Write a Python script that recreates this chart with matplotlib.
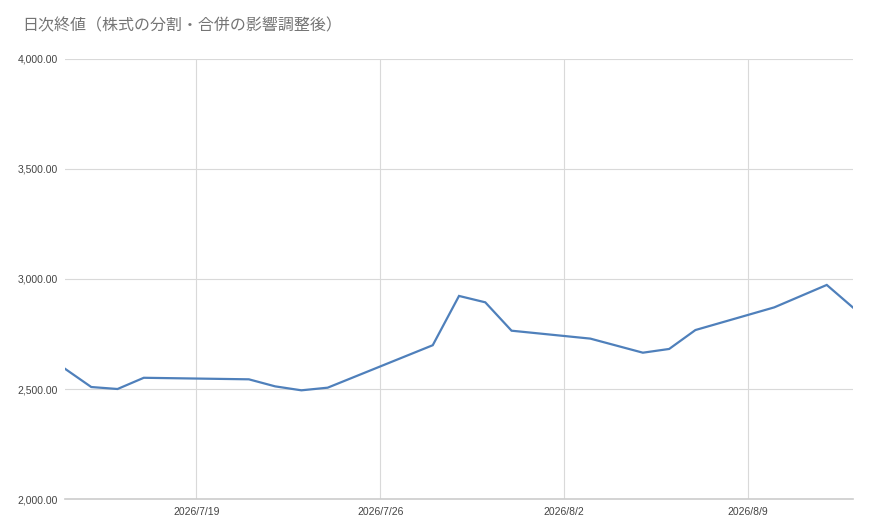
import datetime as dt

import matplotlib

matplotlib.use("Agg")
import matplotlib.dates as mdates
import matplotlib.pyplot as plt
from matplotlib.ticker import FuncFormatter

# Daily closing values (adjusted for splits / mergers)
dates = [
    "2026-07-14", "2026-07-15", "2026-07-16", "2026-07-17", "2026-07-21",
    "2026-07-22", "2026-07-23", "2026-07-24", "2026-07-28", "2026-07-29",
    "2026-07-30", "2026-07-31", "2026-08-03", "2026-08-05", "2026-08-06",
    "2026-08-07", "2026-08-10", "2026-08-12", "2026-08-13",
]
closes = [
    2592, 2509, 2500, 2551, 2544,
    2512, 2494, 2506, 2699, 2923,
    2894, 2765, 2729, 2665, 2682,
    2768, 2871, 2973, 2870,
]
y_ticks = [2000, 2500, 3000, 3500, 4000]
x_ticks = ["2026-07-19", "2026-07-26", "2026-08-02", "2026-08-09"]

title = "日次終値（株式の分割・合併の影響調整後）"

days = [dt.date.fromisoformat(d) for d in dates]
tick_days = [dt.date.fromisoformat(d) for d in x_ticks]

fig = plt.figure(figsize=(8.7, 5.29), dpi=100)
ax = fig.add_axes([0.0747, 0.0567, 0.9058, 0.8318])

ax.plot(days, closes, color="#4f80bb", linewidth=1.6, solid_joinstyle="miter")

ax.set_xlim(days[0], days[-1])
ax.set_ylim(y_ticks[0], y_ticks[-1])
ax.set_yticks(y_ticks)
ax.set_xticks(tick_days)
ax.xaxis.set_major_formatter(
    FuncFormatter(lambda v, _: (lambda d: f"{d.year}/{d.month}/{d.day}")(mdates.num2date(v)))
)
ax.yaxis.set_major_formatter(FuncFormatter(lambda v, _: f"{v:,.2f}"))

ax.grid(True, color="#d9d9d9", linewidth=0.8)
ax.set_axisbelow(True)
for side in ["top", "right", "left"]:
    ax.spines[side].set_visible(False)
ax.spines["bottom"].set_color("#cccccc")
ax.spines["bottom"].set_linewidth(1.2)

ax.tick_params(axis="both", length=0, labelsize=7.5, labelcolor="#444444")
ax.tick_params(axis="x", pad=6)
ax.tick_params(axis="y", pad=5)
for lbl in ax.get_xticklabels() + ax.get_yticklabels():
    lbl.set_family(["Liberation Sans", "DejaVu Sans"])

fig.text(0.025, 0.952, title, fontsize=11.5, color="#757575",
         family=["Noto Sans CJK JP", "DejaVu Sans"], va="center", ha="left")

fig.savefig("out.png", dpi=100, facecolor="white")
